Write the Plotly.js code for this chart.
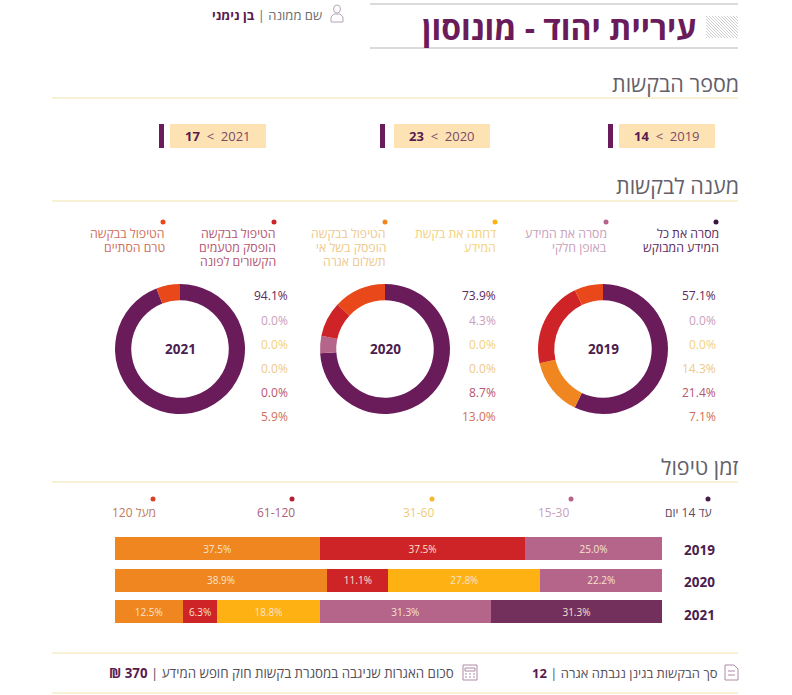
<!DOCTYPE html>
<html lang="he"><head><meta charset="utf-8">
<script src="https://cdn.plot.ly/plotly-3.0.1.min.js"></script>
<style>html,body{margin:0;padding:0;background:#fff}</style></head>
<body><div id="chart" style="width:792px;height:695px"></div>
<script>
const FONT='"Open Sans","Liberation Sans",sans-serif';
const years=['2019','2020','2021'];
const counts=[14,23,17];
const responseLabels=[['מסרה את כל','המידע המבוקש'],['מסרה את המידע','באופן חלקי'],['דחתה את בקשת','המידע'],['הטיפול בבקשה','הופסק בשל אי','תשלום אגרה'],['הטיפול בבקשה','הופסק מטעמים','הקשורים לפונה'],['הטיפול בבקשה','טרם הסתיים']];
const response2019=[57.1,0,0,14.3,21.4,7.1];
const response2020=[73.9,4.3,0,0,8.7,13.0];
const response2021=[94.1,0,0,0,0,5.9];
const responseColors=['#6a1b5a','#b5658a','#fdb112','#f08620','#cf2427','#e8481a'];
const responseText=['#5b2a5f','#c9a0bb','#f3d27a','#eec98c','#b4566f','#d0705a'];
const timeLabels=['עד 14 יום','15-30','31-60','61-120','120 מעל'];
const time0to14=[0,0,31.25];
const time15to30=[25.0,22.2,31.25];
const time31to60=[0,27.8,18.75];
const time61to120=[37.5,11.1,6.25];
const timeOver120=[37.5,38.9,12.5];
const timeColors=['#73305c','#b5658a','#fdb112','#cf2427','#f08620'];
const timeDots=['#4a1b4e','#b5658a','#f5b82e','#b3202e','#d8402a'];
const timeText=['#5b4a62','#c9a0bb','#eecb78','#a85f78','#c07a60'];

const fx=x=>x/792, fy=y=>1-y/695;
const annotations=[], shapes=[];
function T(x,y,text,size,color,opts={}){
  annotations.push(Object.assign({xref:'paper',yref:'paper',x:fx(x),y:fy(y),text,showarrow:false,xanchor:'right',yanchor:'middle',
    borderpad:0,font:{family:FONT,size,color}},opts));
}
function rule(y,x0,x1,color,w){shapes.push({type:'line',xref:'paper',yref:'paper',x0:fx(x0),x1:fx(x1),y0:fy(y),y1:fy(y),line:{color,width:w}});}
function rect(x0,y0,x1,y1,color){shapes.push({type:'rect',xref:'paper',yref:'paper',x0:fx(x0),x1:fx(x1),y0:fy(y0),y1:fy(y1),fillcolor:color,line:{width:0}});}
function dot(x,y,color){shapes.push({type:'circle',xref:'paper',yref:'paper',x0:fx(x-2.5),x1:fx(x+2.5),y0:fy(y-2.5),y1:fy(y+2.5),fillcolor:color,line:{width:0}});}
function path(pts,color,w,fill){
  const d=pts.map(s=>s.map((p,i)=>(i?'L':'M')+fx(p[0])+','+fy(p[1])).join(' ')).join(' ');
  shapes.push({type:'path',xref:'paper',yref:'paper',path:d,line:{color,width:w},fillcolor:fill||'rgba(0,0,0,0)'});
}
const PALE='#f6edc8';
const HEAD='#645f69';
// header
rule(4,370,738,'#cfcfcf',1.5); rule(48,370,738,'#cfcfcf',1.5);
const hatch=[];
for(let i=-7;i<11;i++){const x0=706+i*3;let a=[x0,16],b=[x0+22,38];if(x0<706){a=[706,16+(706-x0)];}if(b[0]>738){b=[738,16+(738-x0)];}hatch.push([a,b]);}
path(hatch,'#cfcfcf',1);
T(697,27,'<b>עיריית יהוד - מונוסון</b>',32,'#6a1b5a');
T(323,15,'שם ממונה | <b style="color:#5a1a50">בן נימני</b>',13,'#6b6b6b');
shapes.push({type:'circle',xref:'paper',yref:'paper',x0:fx(333.5),x1:fx(340.5),y0:fy(5),y1:fy(13),line:{color:'#b9a4b5',width:1}});
path([[[331,22],[331,17],[334,14],[340,14],[343,17],[343,22],[331,22]]],'#b9a4b5',1);

// sections
T(740,83,'מספר הבקשות',21.5,HEAD);
rule(98,52,738,PALE,1.5);
T(740,185,'מענה לבקשות',21.5,HEAD);
rule(201,52,738,PALE,1.5);
T(740,466,'זמן טיפול',21.5,HEAD);
rule(482,52,738,PALE,1.5);
rule(653,52,738,PALE,1.5); rule(693,52,738,PALE,1.5);

// count boxes
const boxX=[619,394,170], barX=[608,380,159];
years.forEach((y,i)=>{
  rect(boxX[i],124,boxX[i]+96,148,'#fde3b4');
  rect(barX[i],124,barX[i]+5,148,'#6a1b5a');
  T(boxX[i]+48,136,'<b style="color:#5a1a50">'+counts[i]+'</b>&nbsp; &lt; &nbsp;'+y,13,'#7a4a68',{xanchor:'center'});
});

// response legend
const legX=[720,608,497,387,277,166], dotX=[716,606,495,385,274,163];
responseLabels.forEach((lines,i)=>{
  dot(dotX[i],222,i===0?'#3a1340':responseColors[i]);
  lines.forEach((l,j)=>T(legX[i],233+j*14.5,l,12.3,responseText[i]));
});
// donut values
const pieCx=[603,385,180];
const pieData=[response2019,response2020,response2021];
const pctX=[717,497,289];
const traces=[];
pieData.forEach((vals,i)=>{
  traces.push({type:'pie',values:vals,labels:responseLabels.map(l=>l.join(' ')),sort:false,direction:'clockwise',rotation:0,hole:0.75,
    marker:{colors:responseColors,line:{width:0}},textinfo:'none',hoverinfo:'skip',showlegend:false,
    domain:{x:[fx(pieCx[i]-65),fx(pieCx[i]+65)],y:[fy(349+65),fy(349-65)]}});
  T(pieCx[i],348.5,'<b>'+years[i]+'</b>',13.5,'#4a2050',{xanchor:'center'});
  vals.forEach((v,j)=>T(pctX[i],296+j*24,v.toFixed(1)+'%',12,responseText[j]));
});

// time legend
const tX=[713,570,435,296,157], tDot=[708,571,432,292,153];
timeLabels.forEach((l,i)=>{dot(tDot[i],499,timeDots[i]);T(tX[i],512,l,12,timeText[i]);});

// stacked bars
const timeSeries=[time0to14,time15to30,time31to60,time61to120,timeOver120];
timeSeries.forEach((vals,i)=>{
  traces.push({type:'bar',orientation:'h',x:vals,y:years,name:timeLabels[i],marker:{color:timeColors[i],line:{width:0}},
    text:vals.map(v=>v?v.toFixed(1)+'%':''),textposition:'inside',insidetextanchor:'middle',textangle:0,
    constraintext:'none',textfont:{family:FONT,size:10,color:'#f7e3cf'},hoverinfo:'skip',showlegend:false});
});
// row labels
const rowY=[550,582,615];
years.forEach((y,i)=>T(716,rowY[i],'<b>'+y+'</b>',13.5,'#4a2050'));

// footer
path([[[725,665],[734,665],[738,669],[738,680],[725,680],[725,665]],[[728,671],[735,671]],[[728,675],[735,675]]],'#b08aa5',1);
T(719,673,'\u202Bסך הבקשות בגינן נגבתה אגרה | <b style="color:#5a1a50">12</b>\u202C',13,'#55505a');
path([[[463,665],[477,665],[477,680],[463,680],[463,665]],[[465,668],[475,668],[475,671],[465,671],[465,668]],[[465,674],[467,674]],[[469,674],[471,674]],[[473,674],[475,674]],[[465,677],[467,677]],[[469,677],[471,677]],[[473,677],[475,677]]],'#b08aa5',1);
T(455,673,'\u202Bסכום האגרות שניגבה במסגרת בקשות חוק חופש המידע | <b style="color:#5a1a50">370 ₪</b>\u202C',13.3,'#55505a');

Plotly.newPlot('chart',traces,{
  width:792,height:695,margin:{l:0,r:0,t:0,b:0},paper_bgcolor:'#fff',plot_bgcolor:'#fff',showlegend:false,
  barmode:'stack',bargap:0.27,
  font:{family:FONT},
  xaxis:{domain:[fx(114.5),fx(662)],range:[100,0],visible:false,fixedrange:true},
  yaxis:{domain:[fy(627.5),fy(533)],type:'category',categoryorder:'array',categoryarray:years,autorange:'reversed',visible:false,fixedrange:true},
  annotations,shapes
},{displayModeBar:false,staticPlot:true});
</script></body></html>
